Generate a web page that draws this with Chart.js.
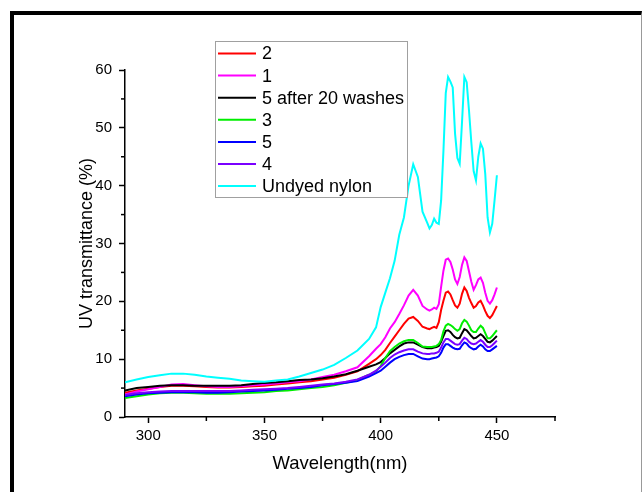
<!DOCTYPE html>
<html>
<head>
<meta charset="utf-8">
<title>UV transmittance</title>
<script src="https://cdn.jsdelivr.net/npm/chart.js@4.4.1/dist/chart.umd.min.js"></script>
<style>
  body { margin: 0; background: #fff; }
  #wrap { position: relative; width: 643px; height: 492px; overflow: hidden; }
  #moldura {
    position: absolute; left: 10px; top: 11px; width: 627px; height: 500px;
    border-left: 4px solid #000; border-top: 4px solid #000; border-right: 1px solid #999;
  }
  #grafico { position: absolute; left: 0; top: 0; }
</style>
</head>
<body>
<div id="wrap">
  <div id="moldura"></div>
  <canvas id="grafico" width="643" height="492"></canvas>
</div>
<script>
// comprimentos de onda (nm) - passo maior no começo, 1 nm na região dos picos
var comprimentos = [290, 295, 300, 305, 310, 315, 320, 325, 330, 335, 340, 345, 350, 355, 360, 365, 370, 375, 380, 385, 390, 395, 398,
    400, 402, 404, 406, 408, 410, 412, 414, 416, 418,
    420, 421, 422, 423, 424, 425, 426, 427, 428, 429, 430, 431, 432, 433, 434, 435,
    436, 437, 438, 439, 440, 441, 442, 443, 444, 445, 446, 447, 448, 449, 450];

var amostra2 = [4.2, 4.6, 4.9, 5.2, 5.4, 5.4, 5.3, 5.2, 5.1, 5.1, 5.2, 5.3, 5.4, 5.6, 5.8, 6.0, 6.2, 6.5, 6.8, 7.3, 7.9, 9.2, 10.0,
    10.7, 11.6, 12.8, 13.9, 15.0, 16.1, 17.0, 17.3, 16.6, 15.6,
    15.3, 15.2, 15.4, 15.6, 15.4, 16.4, 18.5, 20.1, 21.5, 21.7, 21.2, 20.2, 19.3, 18.9, 19.6, 21.3,
    22.4, 21.8, 20.6, 19.7, 18.9, 19.2, 19.8, 20.1, 19.3, 18.3, 17.5, 17.1, 17.6, 18.4, 19.2];

var amostra1 = [3.9, 4.4, 4.8, 5.2, 5.6, 5.7, 5.5, 5.3, 5.2, 5.2, 5.3, 5.5, 5.6, 5.8, 6.0, 6.2, 6.5, 6.9, 7.3, 7.9, 8.6, 10.5, 11.8,
    12.6, 13.8, 15.3, 16.4, 17.8, 19.3, 21.0, 22.0, 21.0, 19.2,
    18.6, 18.4, 18.6, 18.9, 18.7, 19.5, 22.5, 25.3, 27.2, 27.4, 26.8, 25.5, 23.8, 23.0, 24.2, 26.3,
    27.6, 27.0, 25.2, 23.4, 22.0, 22.8, 23.8, 24.1, 23.2, 21.5, 20.1, 19.6, 20.2, 21.2, 22.4];

var amostra5Lavada = [4.6, 5.0, 5.2, 5.4, 5.5, 5.5, 5.4, 5.4, 5.4, 5.4, 5.5, 5.7, 5.9, 6.0, 6.2, 6.4, 6.5, 6.7, 7.0, 7.4, 8.0, 8.7, 9.1,
    9.5, 10.2, 11.0, 11.6, 12.2, 12.7, 12.9, 12.9, 12.5, 12.1,
    11.9, 11.9, 11.9, 12.0, 12.1, 12.3, 13.0, 14.0, 14.9, 15.0, 14.7, 14.2, 13.8, 13.6, 13.7, 14.5,
    15.2, 15.0, 14.5, 14.0, 13.6, 13.7, 14.0, 14.3, 14.0, 13.5, 13.0, 12.9, 13.2, 13.6, 14.0];

var amostra3 = [3.3, 3.6, 3.9, 4.1, 4.2, 4.2, 4.1, 4.0, 4.0, 4.0, 4.1, 4.2, 4.3, 4.5, 4.6, 4.8, 5.0, 5.2, 5.5, 5.9, 6.4, 7.3, 7.9,
    8.8, 10.2, 11.4, 12.1, 12.7, 13.1, 13.3, 13.3, 12.8, 12.2,
    12.1, 12.1, 12.1, 12.2, 12.3, 12.6, 13.3, 14.8, 15.8, 16.1, 15.9, 15.6, 15.2, 14.9, 15.2, 16.2,
    16.8, 16.5, 15.8, 15.0, 14.7, 14.7, 15.3, 15.8, 15.4, 14.5, 13.6, 13.6, 14.0, 14.5, 15.0];

var amostra5 = [3.6, 3.9, 4.1, 4.2, 4.3, 4.3, 4.3, 4.2, 4.2, 4.3, 4.4, 4.5, 4.6, 4.7, 4.9, 5.0, 5.2, 5.5, 5.7, 5.9, 6.2, 7.0, 7.6,
    8.0, 8.7, 9.4, 10.0, 10.4, 10.7, 10.9, 10.9, 10.5, 10.1,
    10.0, 10.0, 10.1, 10.2, 10.3, 10.5, 11.1, 12.0, 12.6, 12.6, 12.3, 12.0, 11.8, 11.7, 11.8, 12.4,
    12.9, 12.7, 12.2, 11.9, 11.7, 11.8, 12.2, 12.5, 12.2, 11.7, 11.4, 11.4, 11.7, 12.0, 12.3];

var amostra4 = [3.8, 4.1, 4.3, 4.4, 4.5, 4.5, 4.5, 4.5, 4.5, 4.5, 4.6, 4.7, 4.8, 4.9, 5.0, 5.2, 5.4, 5.6, 5.8, 6.1, 6.5, 7.3, 8.0,
    8.7, 9.4, 10.2, 10.8, 11.2, 11.5, 11.7, 11.7, 11.3, 11.0,
    10.9, 10.9, 11.0, 11.0, 11.1, 11.3, 12.0, 12.9, 13.5, 13.5, 13.2, 12.9, 12.6, 12.5, 12.6, 13.2,
    13.7, 13.5, 13.0, 12.7, 12.6, 12.7, 13.0, 13.3, 13.0, 12.5, 12.1, 12.1, 12.4, 12.8, 13.2];

var nylonSemTingir = [6.0, 6.5, 6.9, 7.2, 7.5, 7.5, 7.3, 7.0, 6.8, 6.6, 6.3, 6.2, 6.1, 6.3, 6.5, 7.0, 7.6, 8.2, 9.0, 10.2, 11.5, 13.5, 15.5,
    19.0, 21.5, 24.0, 27.0, 31.5, 34.5, 40.0, 43.7, 41.5, 35.5,
    33.6, 32.6, 33.2, 34.3, 33.6, 33.4, 37.4, 46.0, 56.0, 58.8, 58.0, 57.0, 49.0, 44.8, 43.8, 51.0,
    58.8, 57.9, 53.0, 47.5, 42.5, 40.9, 45.0, 47.3, 46.4, 42.0, 34.5, 31.9, 33.4, 37.5, 41.8];

var nomes = ['2', '1', '5 after 20 washes', '3', '5', '4', 'Undyed nylon'];
var cores = ['#ff0000', '#ff00ff', '#000000', '#00ee00', '#0000ff', '#7a00ff', '#00ffff'];
var series = [amostra2, amostra1, amostra5Lavada, amostra3, amostra5, amostra4, nylonSemTingir];

var ticksX = [300, 350, 400, 450];
var ticksXMenores = [325, 375, 425, 475];
var ticksYMenores = [5, 15, 25, 35, 45, 55];

var fonte = "'Liberation Sans', Arial, sans-serif";

// monta os datasets a partir das listas acima
var datasets = [];
for (var i = 0; i < series.length; i++) {
    var pontos = [];
    for (var j = 0; j < comprimentos.length; j++) {
        pontos.push({ x: comprimentos[j], y: series[i][j] });
    }
    datasets.push({
        label: nomes[i],
        data: pontos,
        borderColor: cores[i],
        backgroundColor: cores[i],
        borderWidth: 2,
        pointRadius: 0,
        tension: 0,
        order: series.length - i
    });
}

// tracinhos menores dos eixos e a legenda dentro do gráfico
var extras = {
    id: 'extras',
    afterDraw: function (chart) {
        var ctx = chart.ctx;
        var sx = chart.scales.x;
        var sy = chart.scales.y;
        var area = chart.chartArea;
        ctx.save();
        ctx.strokeStyle = '#000';
        ctx.lineWidth = 1.5;
        ticksXMenores.forEach(function (v) {
            var px = sx.getPixelForValue(v);
            ctx.beginPath();
            ctx.moveTo(px, area.bottom);
            ctx.lineTo(px, area.bottom + 4);
            ctx.stroke();
        });
        ticksYMenores.forEach(function (v) {
            var py = sy.getPixelForValue(v);
            ctx.beginPath();
            ctx.moveTo(area.left, py);
            ctx.lineTo(area.left - 4, py);
            ctx.stroke();
        });

        // caixa da legenda
        var bx = 215.5, by = 41.5, bw = 192, bh = 156;
        ctx.fillStyle = '#fff';
        ctx.fillRect(bx, by, bw, bh);
        ctx.strokeStyle = '#a0a0a0';
        ctx.lineWidth = 1;
        ctx.strokeRect(bx, by, bw, bh);
        ctx.font = '18px ' + fonte;
        ctx.textBaseline = 'middle';
        ctx.textAlign = 'left';
        chart.data.datasets.forEach(function (ds, k) {
            var yy = 53.5 + k * 22.1;
            ctx.strokeStyle = ds.borderColor;
            ctx.lineWidth = 2;
            ctx.beginPath();
            ctx.moveTo(218, yy);
            ctx.lineTo(256, yy);
            ctx.stroke();
            ctx.fillStyle = '#000';
            ctx.fillText(ds.label, 262, yy + 1);
        });
        ctx.restore();
    }
};

Chart.defaults.font.family = fonte;
Chart.defaults.color = '#000';

var ctx = document.getElementById('grafico').getContext('2d');
window.graficoUV = new Chart(ctx, {
    type: 'line',
    data: { datasets: datasets },
    plugins: [extras],
    options: {
        responsive: false,
        animation: false,
        layout: {
            padding: { left: 70, right: 88, top: 70, bottom: 17 }
        },
        plugins: {
            legend: { display: false },
            tooltip: { enabled: false }
        },
        scales: {
            x: {
                type: 'linear',
                min: 290,
                max: 475,
                afterBuildTicks: function (scale) {
                    scale.ticks = ticksX.map(function (v) { return { value: v }; });
                },
                afterFit: function (scale) { scale.height = 58; },
                border: { color: '#000', width: 1.5 },
                grid: { drawOnChartArea: false, drawTicks: true, tickLength: 6, tickColor: '#000', tickWidth: 1.5 },
                ticks: { font: { size: 15 }, padding: 4, maxRotation: 0 },
                title: { display: true, text: 'Wavelength(nm)', font: { size: 18.5 }, padding: 0 }
            },
            y: {
                min: 0,
                max: 60,
                afterFit: function (scale) { scale.width = 55; },
                border: { color: '#000', width: 1.5 },
                grid: { drawOnChartArea: false, drawTicks: true, tickLength: 6, tickColor: '#000', tickWidth: 1.5 },
                ticks: { stepSize: 10, font: { size: 15 }, padding: 7 },
                title: { display: true, text: 'UV transmittance (%)', font: { size: 18 }, padding: 6 }
            }
        }
    }
});
</script>
</body>
</html>
